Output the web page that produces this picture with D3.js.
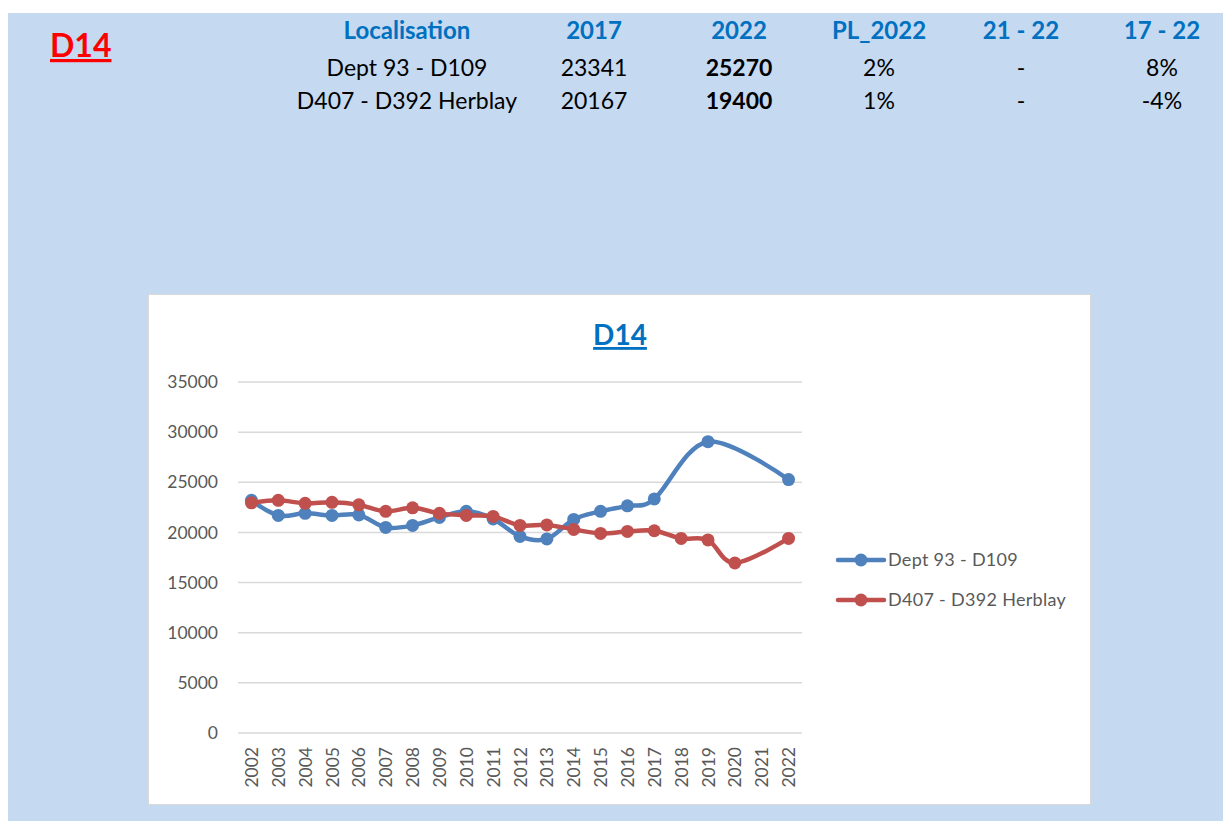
<!DOCTYPE html>
<html>
<head>
<meta charset="utf-8">
<script src="https://cdn.jsdelivr.net/npm/d3@7"></script>
<style>
  html, body { margin: 0; padding: 0; background: #fff; }
  svg { display: block; font-family: Lato, "Open Sans", sans-serif; }
</style>
</head>
<body>
<div id="chart"></div>
<script>
// Table above the chart
const tableHeaders = ['Localisation', '2017', '2022', 'PL_2022', '21 - 22', '17 - 22'];
const tableRows = [
  ['Dept 93 - D109', '23341', '25270', '2%', '-', '8%'],
  ['D407 - D392 Herblay', '20167', '19400', '1%', '-', '-4%']
];

// Chart data
const years = ['2002', '2003', '2004', '2005', '2006', '2007', '2008', '2009', '2010', '2011',
  '2012', '2013', '2014', '2015', '2016', '2017', '2018', '2019', '2020', '2021', '2022'];
const dept93 = [23200, 21700, 21900, 21700, 21750, 20500, 20700, 21500, 22100, 21350,
  19600, 19350, 21300, 22100, 22650, 23341, null, 29050, null, null, 25270];
const d407 = [22950, 23200, 22900, 23000, 22750, 22100, 22450, 21900, 21700, 21600,
  20700, 20750, 20300, 19900, 20100, 20167, 19400, 19250, 16950, null, 19400];
const yTicks = [0, 5000, 10000, 15000, 20000, 25000, 30000, 35000];

const seriesList = [
  { name: 'Dept 93 - D109', values: dept93, color: '#4F81BD' },
  { name: 'D407 - D392 Herblay', values: d407, color: '#C0504D' }
];

const width = 1223, height = 821;

const svg = d3.select('#chart')
  .append('svg')
  .attr('width', width)
  .attr('height', height);

// Blue page background
svg.append('rect')
  .attr('x', 8).attr('y', 13)
  .attr('width', width - 8).attr('height', height - 13)
  .attr('fill', '#C5D9F1');

// Sheet title
svg.append('text')
  .attr('x', 50).attr('y', 57)
  .attr('fill', '#FF0000')
  .style('font-size', '32px')
  .style('font-weight', 'bold')
  .style('text-decoration', 'underline')
  .text('D14');

// Table
const colX = [407, 594, 739, 879, 1021, 1162];
svg.append('g').selectAll('text')
  .data(tableHeaders)
  .enter().append('text')
  .attr('x', (d, i) => colX[i])
  .attr('y', 39)
  .attr('text-anchor', 'middle')
  .attr('fill', '#0070C0')
  .style('font-size', '24px')
  .style('font-weight', 'bold')
  .text(d => d);

tableRows.forEach((row, r) => {
  svg.append('g').selectAll('text')
    .data(row)
    .enter().append('text')
    .attr('x', (d, i) => colX[i])
    .attr('y', 76 + r * 33)
    .attr('text-anchor', 'middle')
    .attr('fill', '#000')
    .style('font-size', '23px')
    .style('font-weight', (d, i) => i === 2 ? 'bold' : 'normal')
    .text(d => d);
});

// Chart box
svg.append('rect')
  .attr('x', 148.5).attr('y', 294.5)
  .attr('width', 942).attr('height', 510)
  .attr('fill', '#fff')
  .attr('stroke', '#D9D9D9');

svg.append('text')
  .attr('x', 620).attr('y', 345)
  .attr('text-anchor', 'middle')
  .attr('fill', '#0070C0')
  .style('font-size', '28px')
  .style('font-weight', 'bold')
  .style('text-decoration', 'underline')
  .text('D14');

const x = d3.scalePoint()
  .domain(years)
  .range([238, 802])
  .padding(0.5);

const y = d3.scaleLinear()
  .domain([0, 35000])
  .range([733, 382]);

// Gridlines
svg.append('g').selectAll('line')
  .data(yTicks)
  .enter().append('line')
  .attr('x1', 238).attr('x2', 802)
  .attr('y1', d => y(d)).attr('y2', d => y(d))
  .attr('stroke', '#D9D9D9')
  .attr('stroke-width', 1.5);

// Y axis labels
const yAxis = svg.append('g')
  .attr('transform', 'translate(226,0)')
  .call(d3.axisLeft(y).tickValues(yTicks).tickFormat(d3.format('d')).tickSize(0).tickPadding(8));
yAxis.select('.domain').remove();
yAxis.selectAll('text')
  .attr('fill', '#595959')
  .style('font-family', 'Lato, sans-serif')
  .style('font-size', '17.5px');

// X axis labels
const xAxis = svg.append('g')
  .attr('transform', 'translate(0,733)')
  .call(d3.axisBottom(x).tickSize(0));
xAxis.select('.domain').remove();
xAxis.selectAll('text')
  .attr('fill', '#595959')
  .style('font-family', 'Lato, sans-serif')
  .style('font-size', '17.5px')
  .attr('transform', 'rotate(-90)')
  .attr('text-anchor', 'end')
  .attr('x', -14)
  .attr('y', 0)
  .attr('dy', '0.35em');

// Lines and markers
const line = d3.line()
  .x(d => x(d.year))
  .y(d => y(d.value))
  .curve(d3.curveCatmullRom.alpha(0));

seriesList.forEach(s => {
  const pts = years.map((yr, i) => ({ year: yr, value: s.values[i] }))
    .filter(d => d.value !== null);

  svg.append('path')
    .datum(pts)
    .attr('d', line)
    .attr('fill', 'none')
    .attr('stroke', s.color)
    .attr('stroke-width', 4.5)
    .attr('stroke-linejoin', 'round')
    .attr('stroke-linecap', 'round');

  svg.append('g').selectAll('circle')
    .data(pts)
    .enter().append('circle')
    .attr('cx', d => x(d.year))
    .attr('cy', d => y(d.value))
    .attr('r', 6.5)
    .attr('fill', s.color);
});

// Legend
const legend = svg.append('g').selectAll('g')
  .data(seriesList)
  .enter().append('g')
  .attr('transform', (d, i) => `translate(838,${560 + i * 40})`);

legend.append('line')
  .attr('x1', 0).attr('x2', 46)
  .attr('stroke', d => d.color)
  .attr('stroke-width', 4.5)
  .attr('stroke-linecap', 'round');

legend.append('circle')
  .attr('cx', 23)
  .attr('r', 6.5)
  .attr('fill', d => d.color);

legend.append('text')
  .attr('x', 50)
  .attr('dy', '0.35em')
  .attr('fill', '#595959')
  .style('font-size', '18px')
  .style('letter-spacing', '0.3px')
  .text(d => d.name);
</script>
</body>
</html>
